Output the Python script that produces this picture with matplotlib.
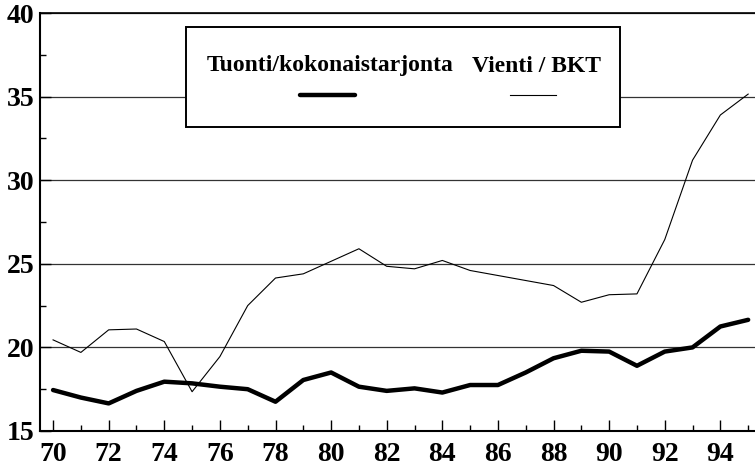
import matplotlib
matplotlib.use("Agg")
import matplotlib.pyplot as plt
from matplotlib.patches import Rectangle
from matplotlib.lines import Line2D

years = list(range(70, 96))
tuonti = [17.45, 17.0, 16.65, 17.4, 17.95, 17.85, 17.65, 17.5, 16.75, 18.05,
          18.5, 17.65, 17.4, 17.55, 17.3, 17.75, 17.75, 18.5, 19.35, 19.8,
          19.75, 18.9, 19.75, 20.0, 21.25, 21.65]
vienti = [20.45, 19.7, 21.05, 21.1, 20.35, 17.35, 19.45, 22.5, 24.15, 24.4,
          25.15, 25.9, 24.85, 24.7, 25.2, 24.6, 24.3, 24.0, 23.7, 22.7,
          23.15, 23.2, 26.45, 31.2, 33.9, 35.15]
series_names = ["Tuonti/kokonaistarjonta", "Vienti / BKT"]
xtick_labels = [str(y) for y in range(70, 96, 2)]
yticks = [15, 20, 25, 30, 35, 40]

plt.rcParams['font.family'] = ['Liberation Serif', 'DejaVu Serif']
plt.rcParams['font.weight'] = 'bold'

fig = plt.figure(figsize=(7.55, 4.66), dpi=100)
ax = fig.add_axes([40/755, 1 - 431/466, 1 - 40/755 + 0.002, (431 - 13)/466])

for yv in [20, 25, 30, 35, 40]:
    ax.axhline(yv, color='#333333', lw=0.9, zorder=1)

ax.plot(years, vienti, color='black', lw=0.8, zorder=3)
ax.plot(years, tuonti, color='black', lw=3.2, zorder=3, solid_capstyle='round')

ax.set_xlim(69.53, 95.3)
ax.set_ylim(15, 40)
ax.set_xticks(range(70, 96, 2))
ax.set_xticklabels(xtick_labels)
ax.set_xticks(range(71, 96, 2), minor=True)
ax.set_yticks(yticks)
ax.set_yticks([17.5, 22.5, 27.5, 32.5, 37.5], minor=True)
ax.tick_params(axis='both', which='major', direction='in', length=8, width=1.0,
               labelsize=20, colors='black')
ax.tick_params(axis='both', which='minor', direction='in', length=4, width=1.0)
ax.tick_params(axis='x', pad=8)
ax.tick_params(axis='y', pad=4)
for lab in ax.get_xticklabels() + ax.get_yticklabels():
    lab.set_fontweight('bold')

ax.spines['right'].set_visible(False)
ax.spines['top'].set_linewidth(1.2)
ax.spines['left'].set_linewidth(1.5)
ax.spines['bottom'].set_linewidth(1.5)

# legend box (in pixel-derived figure coordinates)
bx0, bx1, by0, by1 = 186/755, 620/755, 1 - 127/466, 1 - 27/466
fig.patches.append(Rectangle((bx0, by0), bx1 - bx0, by1 - by0, transform=fig.transFigure,
                             facecolor='white', edgecolor='black', lw=1.4, zorder=5))
fig.text(207/755, 1 - 66/466, series_names[0], fontsize=17, fontweight='bold',
         va='center', ha='left', zorder=6)
fig.text(601/755, 1 - 66/466, series_names[1], fontsize=17, fontweight='bold',
         va='center', ha='right', zorder=6)
fig.lines.append(Line2D([300/755, 355/755], [1 - 95/466, 1 - 95/466], transform=fig.transFigure,
                        color='black', lw=3.2, solid_capstyle='round', zorder=6))
fig.lines.append(Line2D([510/755, 556/755], [1 - 95/466, 1 - 95/466], transform=fig.transFigure,
                        color='black', lw=0.8, zorder=6))

fig.savefig("out.png", dpi=100)
